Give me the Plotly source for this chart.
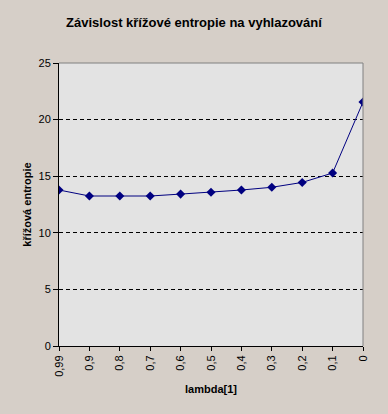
import plotly.graph_objects as go

categories = ["0,99", "0,9", "0,8", "0,7", "0,6", "0,5", "0,4", "0,3", "0,2", "0,1", "0"]
entropy = [13.78, 13.25, 13.25, 13.25, 13.42, 13.58, 13.78, 14.02, 14.45, 15.28, 21.55]
y_ticks = [0, 5, 10, 15, 20, 25]

NAVY = "#000080"
FONT = "Liberation Sans, Arial, sans-serif"

fig = go.Figure()
fig.add_trace(go.Scatter(
    x=categories, y=entropy, mode="lines+markers",
    line=dict(color=NAVY, width=1),
    marker=dict(symbol="diamond", size=7, color=NAVY),
    showlegend=False,
))

fig.update_layout(
    width=388, height=414,
    margin=dict(l=59, r=25, t=63, b=68),
    paper_bgcolor="#D6CFC8",
    plot_bgcolor="#E3E3E3",
    font=dict(family=FONT, size=11, color="black"),
    title=dict(text="<b>Závislost křížové entropie na vyhlazování</b>",
               x=0.5, xanchor="center", y=1 - 22 / 414, yanchor="middle",
               font=dict(size=13, family=FONT, color="black")),
    xaxis=dict(
        type="category", range=[0, len(categories) - 1],
        showgrid=False, showline=True, linecolor="black", linewidth=1,
        ticks="outside", ticklen=4, tickcolor="black", tickangle=-90,
        tickfont=dict(size=11),
        title=dict(text="<b>lambda[1]</b>", font=dict(size=11), standoff=9),
        zeroline=False,
    ),
    yaxis=dict(
        range=[0, 25], tickvals=y_ticks,
        showgrid=True, gridcolor="black", griddash="4px,3px", gridwidth=1,
        showline=True, linecolor="black", linewidth=1,
        ticks="outside", ticklen=5, tickcolor="black",
        tickfont=dict(size=11),
        title=dict(text="<b>křížová entropie</b>", font=dict(size=11), standoff=4),
        zeroline=False,
    ),
)

fig.add_shape(type="line", xref="paper", yref="paper", x0=0, x1=1, y0=1, y1=1,
              line=dict(color="#808080", width=1), layer="above")
fig.add_shape(type="line", xref="paper", yref="paper", x0=1, x1=1, y0=0, y1=1,
              line=dict(color="#808080", width=1), layer="above")

fig.write_html("out.html", config={"displayModeBar": False},
               post_script="document.body.style.margin='0';document.body.style.background='#D6CFC8';")
